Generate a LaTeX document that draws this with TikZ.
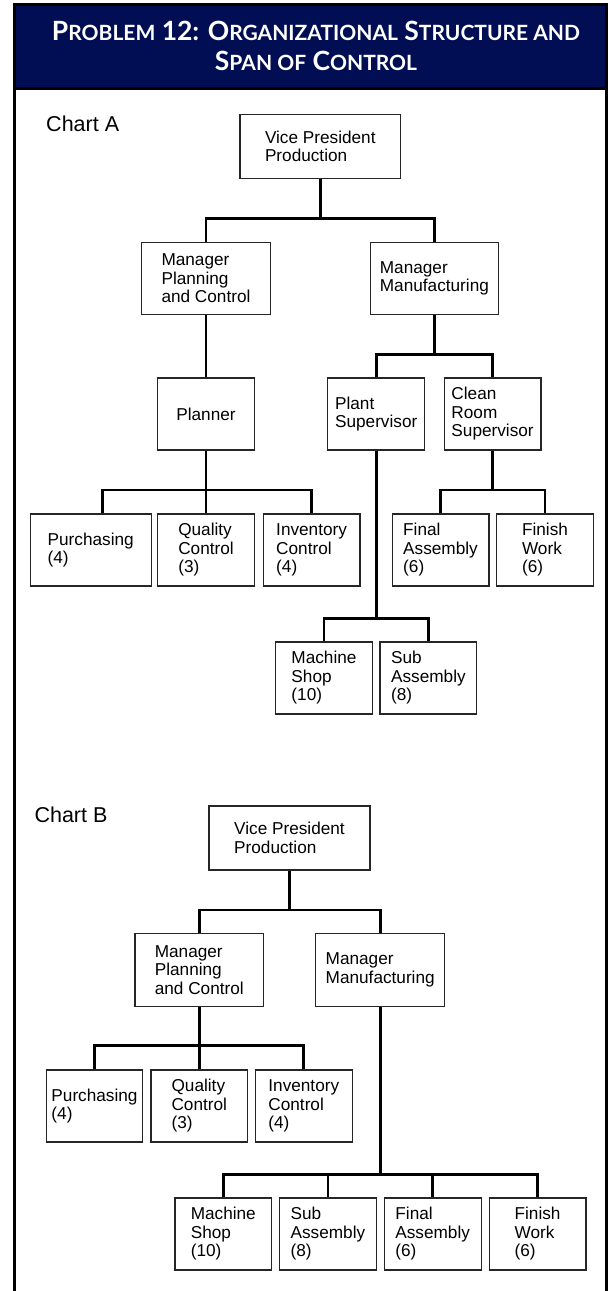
\documentclass[tikz,border=0pt]{standalone}
\usepackage{fontspec}
\setmainfont{Liberation Sans}
\newfontfamily\headfont{Lato}
\usepackage{tikz}
\definecolor{navyhead}{RGB}{1,14,84}
\newcommand\smcap[1]{{\fontsize{21}{21}\selectfont #1}}

\begin{document}
\begin{tikzpicture}[x=1pt,y=-1pt,
  orgbox/.style={draw=black!85, line width=1.2pt, fill=white, inner sep=0pt,
    minimum width=96.8pt, minimum height=72pt, align=left,
    font=\fontsize{17.2}{18.5}\selectfont},
  link/.style={line width=2.7pt, line join=miter},
  chartname/.style={anchor=base west, font=\fontsize{21.5}{24}\selectfont},
  headline/.style={anchor=base, text=white, font=\headfont\bfseries\fontsize{26.5}{26.5}\selectfont}]

\useasboundingbox (0,0) rectangle (611,1291);

% ===================== Header and frame =====================
\fill[navyhead] (14,4.7) rectangle (606.5,88);
\draw[line width=3pt] (14,1291) -- (14,4.7) -- (606.5,4.7) -- (606.5,1291);
\draw[line width=3pt] (14,88) -- (606.5,88);
\node[headline] (title1) at (316,40)
  {P\smcap{ROBLEM} 12: O\smcap{RGANIZATIONAL} S\smcap{TRUCTURE AND}};
\node[headline] (title2) at (316,70)
  {S\smcap{PAN OF} C\smcap{ONTROL}};

% ===================== Chart A =====================
\node[chartname] (chartA) at (42.7,131.7) {Chart A};

\node[orgbox, minimum width=160.5pt, minimum height=64pt] (vpA) at (320.3,146.3) {Vice President\\Production};
\node[orgbox, minimum width=128.5pt] (mpcA) at (206,278.3) {Manager\\Planning\\and Control};
\node[orgbox, minimum width=128.5pt] (mmA) at (434.4,278.3) {Manager\\Manufacturing};
\node[orgbox] (planA) at (206,414) {Planner};
\node[orgbox] (plantA) at (376.2,414) {Plant\\Supervisor};
\node[orgbox] (cleanA) at (492.6,414) {Clean\\Room\\Supervisor};
\node[orgbox, minimum width=121pt] (purchA) at (90.7,550) {Purchasing\\(4)};
\node[orgbox] (qcA) at (206,550) {Quality\\Control\\(3)};
\node[orgbox] (icA) at (311.6,550) {Inventory\\Control\\(4)};
\node[orgbox] (faA) at (440.5,550) {Final\\Assembly\\(6)};
\node[orgbox] (fwA) at (545,550) {Finish\\Work\\(6)};
\node[orgbox] (msA) at (324,678) {Machine\\Shop\\(10)};
\node[orgbox] (saA) at (428.4,678) {Sub\\Assembly\\(8)};

\coordinate (jA1) at (320.3,218.3);
\coordinate (jA2) at (434.4,354.3);
\coordinate (jA3) at (206,490);
\coordinate (jA4) at (492.6,490);
\coordinate (jA5) at (376.2,618.3);

\draw[link] (vpA.south) -- (jA1) (mpcA.north) |- (jA1) -| (mmA.north);
\draw[link] (mpcA.south) -- (planA.north);
\draw[link] (mmA.south) -- (jA2) (plantA.north) |- (jA2) -| (cleanA.north);
\draw[link] (planA.south) -- (qcA.north) ([xshift=11.9pt]purchA.north) |- (jA3) -| (icA.north);
\draw[link] (cleanA.south) -- (jA4) (faA.north) |- (jA4) -| (fwA.north);
\draw[link] (plantA.south) -- (jA5) (msA.north) |- (jA5) -| (saA.north);

% ===================== Chart B =====================
\node[chartname] (chartB) at (31,822.7) {Chart B};

\node[orgbox, minimum width=161pt, minimum height=64pt] (vpB) at (289.5,838) {Vice President\\Production};
\node[orgbox, minimum width=128.8pt, minimum height=72.6pt] (mpcB) at (199.3,970) {Manager\\Planning\\and Control};
\node[orgbox, minimum width=128.8pt, minimum height=72.6pt] (mmB) at (380.2,970) {Manager\\Manufacturing};
\node[orgbox, minimum width=96pt] (purchB) at (94.5,1106) {Purchasing\\(4)};
\node[orgbox] (qcB) at (199.3,1106) {Quality\\Control\\(3)};
\node[orgbox] (icB) at (303.8,1106) {Inventory\\Control\\(4)};
\node[orgbox] (msB) at (223.3,1234) {Machine\\Shop\\(10)};
\node[orgbox] (saB) at (327.9,1234) {Sub\\Assembly\\(8)};
\node[orgbox] (faB) at (432.7,1234) {Final\\Assembly\\(6)};
\node[orgbox] (fwB) at (537.6,1234) {Finish\\Work\\(6)};

\coordinate (jB1) at (289.5,910);
\coordinate (jB2) at (199.3,1045.7);
\coordinate (jB3) at (380.2,1174.3);

\draw[link] (vpB.south) -- (jB1) (mpcB.north) |- (jB1) -| (mmB.north);
\draw[link] (mpcB.south) -- (qcB.north) (purchB.north) |- (jB2) -| (icB.north);
\draw[link] (mmB.south) -- (jB3) (msB.north) |- (jB3) -| (fwB.north)
  (saB.north) -- (saB.north |- jB3) (faB.north) -- (faB.north |- jB3);

\end{tikzpicture}
\end{document}
